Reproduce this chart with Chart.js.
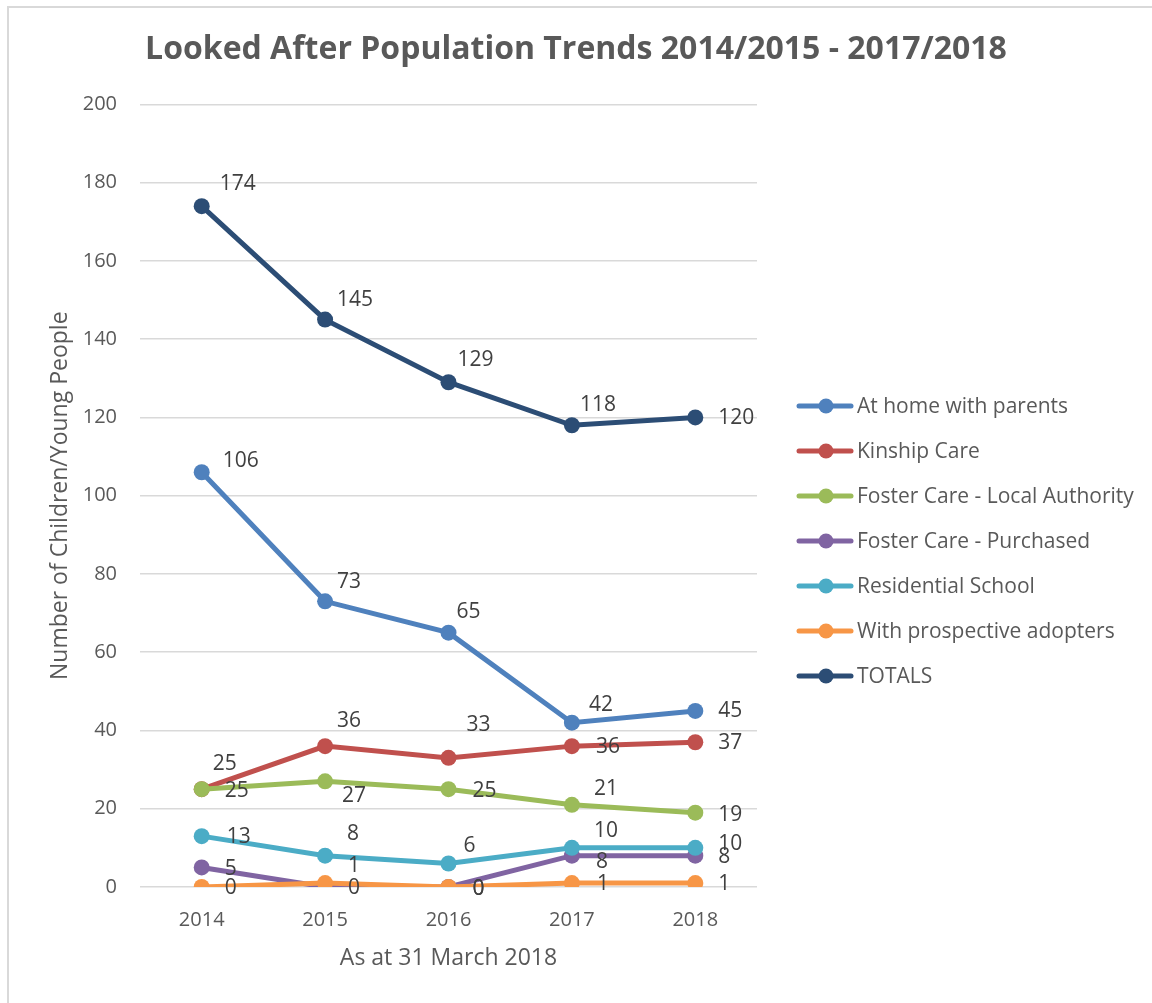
<!DOCTYPE html>
<html>
<head>
<meta charset="utf-8">
<title>Looked After Population Trends</title>
<script src="https://cdn.jsdelivr.net/npm/chart.js"></script>
<style>
    html, body { margin: 0; padding: 0; background: #fff; overflow: hidden; }
    #frame { position: absolute; left: 7px; top: 6px; width: 1300px; height: 1100px; border: 2px solid #D9D9D9; box-sizing: border-box; }
    #wrap { position: absolute; left: 0; top: 0; width: 1152px; height: 1003px; }
</style>
</head>
<body>
<div id="frame"></div>
<div id="wrap"><canvas id="trend-chart"></canvas></div>
<script>
// Values
const years = ['2014', '2015', '2016', '2017', '2018'];
const atHome = [106, 73, 65, 42, 45];
const kinship = [25, 36, 33, 36, 37];
const fosterLocal = [25, 27, 25, 21, 19];
const fosterPurchased = [5, 0, 0, 8, 8];
const residential = [13, 8, 6, 10, 10];
const adopters = [0, 1, 0, 1, 1];
const totals = [174, 145, 129, 118, 120];
const yTicks = [0, 20, 40, 60, 80, 100, 120, 140, 160, 180, 200];

const seriesNames = ['At home with parents', 'Kinship Care', 'Foster Care - Local Authority',
    'Foster Care - Purchased', 'Residential School', 'With prospective adopters', 'TOTALS'];
const seriesValues = [atHome, kinship, fosterLocal, fosterPurchased, residential, adopters, totals];
const seriesColors = ['#4F81BD', '#C0504D', '#9BBB59', '#8064A2', '#4BACC6', '#F79646', '#2C4D75'];

// where each data label sits relative to its point: [dx to left edge, dy to middle]
const labelOffsets = [
    [[21, -11], [12, -19], [8, -21], [17, -18], [23, 0]],
    [[11, -25], [12, -25], [18, -33], [24, 1], [23, 1]],
    [[23, 2], [17, 15], [24, 2], [22, -16], [23, 2]],
    [[23, 2], [23, 1], [24, 2], [24, 6], [23, 1]],
    [[25, 1], [22, -22], [15, -18], [22, -17], [23, -4]],
    [[23, 1], [23, -17], [24, 2], [25, 1], [23, 1]],
    [[18, -22], [12, -20], [9, -22], [8, -20], [23, 1]]
];

const FONT = '"Open Sans", "Liberation Sans", sans-serif';
Chart.defaults.font.family = FONT;
Chart.defaults.color = '#595959';

// Draws the numbers next to every point
const pointLabels = {
    id: 'pointLabels',
    afterDatasetsDraw(chart) {
        const ctx = chart.ctx;
        ctx.save();
        ctx.font = `21px ${FONT}`;
        ctx.fillStyle = '#404040';
        ctx.textAlign = 'left';
        ctx.textBaseline = 'middle';
        chart.data.datasets.forEach((ds, i) => {
            const meta = chart.getDatasetMeta(i);
            meta.data.forEach((pt, j) => {
                const [dx, dy] = labelOffsets[i][j];
                ctx.fillText(String(ds.data[j]), pt.x + dx, pt.y + dy);
            });
        });
        ctx.restore();
    }
};

// Legend on the right, Excel style line+marker
const sideLegend = {
    id: 'sideLegend',
    afterDraw(chart) {
        const ctx = chart.ctx;
        const x0 = chart.chartArea.right + 42;
        ctx.save();
        ctx.font = `21px ${FONT}`;
        ctx.textAlign = 'left';
        ctx.textBaseline = 'middle';
        chart.data.datasets.forEach((ds, i) => {
            const y = 406 + i * 45;
            ctx.strokeStyle = ds.borderColor;
            ctx.lineWidth = 5;
            ctx.lineCap = 'round';
            ctx.beginPath();
            ctx.moveTo(x0, y);
            ctx.lineTo(x0 + 52, y);
            ctx.stroke();
            ctx.fillStyle = ds.borderColor;
            ctx.beginPath();
            ctx.arc(x0 + 27, y, 7.5, 0, Math.PI * 2);
            ctx.fill();
            ctx.fillStyle = '#595959';
            ctx.fillText(ds.label, x0 + 58, y + 1);
        });
        ctx.restore();
    }
};

const datasets = seriesNames.map((name, i) => ({
    label: name,
    data: seriesValues[i],
    borderColor: seriesColors[i],
    backgroundColor: seriesColors[i],
    pointBackgroundColor: seriesColors[i],
    pointBorderColor: seriesColors[i],
    borderWidth: 5,
    pointRadius: 8,
    pointBorderWidth: 0,
    tension: 0,
    order: seriesNames.length - i // later series on top, like Excel
}));

new Chart(document.getElementById('trend-chart'), {
    type: 'line',
    data: { labels: years, datasets: datasets },
    options: {
        responsive: true,
        maintainAspectRatio: false,
        animation: false,
        layout: { padding: 0 },
        plugins: {
            legend: { display: false },
            tooltip: { enabled: false },
            title: {
                display: true,
                text: 'Looked After Population Trends 2014/2015 - 2017/2018',
                color: '#595959',
                font: { size: 32, weight: 'bold' },
                padding: { top: 31, bottom: 35 }
            }
        },
        scales: {
            x: {
                offset: true,
                grid: { display: false },
                border: { display: false },
                ticks: { font: { size: 20 }, color: '#595959', padding: 13 },
                title: {
                    display: true,
                    text: 'As at 31 March 2018',
                    color: '#595959',
                    font: { size: 23 },
                    padding: { top: 0, bottom: 31 }
                },
                afterFit: s => { s.height = 116; }
            },
            y: {
                min: 0,
                max: 200,
                afterBuildTicks: s => { s.ticks = yTicks.map(v => ({ value: v })); },
                grid: { color: '#D9D9D9', lineWidth: 1.5, drawTicks: false },
                border: { display: false },
                ticks: { font: { size: 20 }, color: '#595959', padding: 23 },
                title: {
                    display: true,
                    text: 'Number of Children/Young People',
                    color: '#595959',
                    font: { size: 23 },
                    padding: { top: 47, bottom: 0 }
                },
                afterFit: s => { s.width = 140; }
            },
            // empty axis that only keeps room for the legend on the right
            legendRoom: {
                type: 'linear',
                position: 'right',
                display: true,
                grid: { display: false },
                border: { display: false },
                ticks: { display: false },
                afterFit: s => { s.width = 395; }
            }
        }
    },
    plugins: [pointLabels, sideLegend]
});
</script>
</body>
</html>
